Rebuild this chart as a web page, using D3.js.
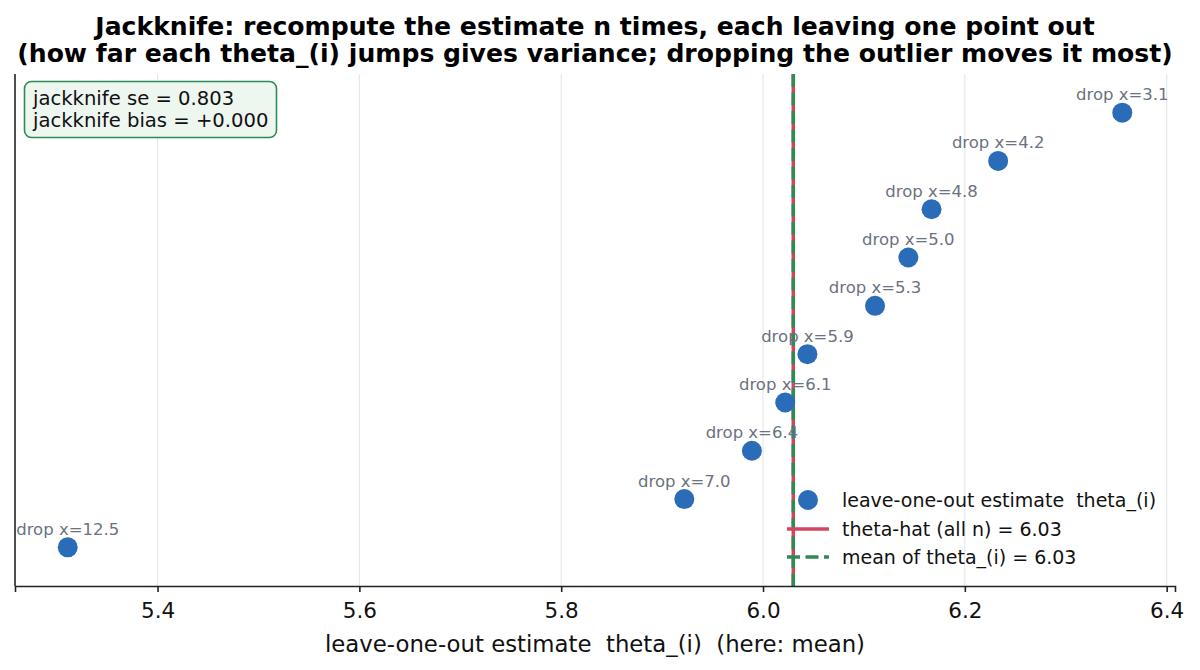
<!DOCTYPE html>
<html>
<head>
<meta charset="utf-8">
<script src="https://cdn.jsdelivr.net/npm/d3@7"></script>
<style>
  body { margin: 0; background: #fff; }
  svg text { font-family: "DejaVu Sans", sans-serif; white-space: pre; }
</style>
</head>
<body>
<svg id="chart" width="1200" height="670"></svg>
<script>
// Data
const droppedX = ["3.1", "4.2", "4.8", "5.0", "5.3", "5.9", "6.1", "6.4", "7.0", "12.5"];
const thetaI = [6.356, 6.233, 6.167, 6.144, 6.111, 6.044, 6.022, 5.989, 5.922, 5.311];
const thetaHat = 6.03;
const thetaMean = 6.03;
const xTicks = [5.4, 5.6, 5.8, 6.0, 6.2, 6.4];
const statLines = ["jackknife se = 0.803", "jackknife bias = +0.000"];
const legendLabels = ["leave-one-out estimate  theta_(i)", "theta-hat (all n) = 6.03", "mean of theta_(i) = 6.03"];

const blue = "#2b6cb8", red = "#d1455e", green = "#2e8b57";

let margin = {top: 74, right: 25, bottom: 84, left: 15},
    width = 1200 - margin.left - margin.right,
    height = 670 - margin.top - margin.bottom;

let svg = d3.select("#chart");

// Title
let cx = margin.left + width / 2;
svg.append("text").attr("x", cx).attr("y", 35).attr("text-anchor", "middle")
    .attr("font-size", 25.1).attr("font-weight", "bold")
    .text("Jackknife: recompute the estimate n times, each leaving one point out");
svg.append("text").attr("x", cx).attr("y", 62).attr("text-anchor", "middle")
    .attr("font-size", 25.1).attr("font-weight", "bold")
    .text("(how far each theta_(i) jumps gives variance; dropping the outlier moves it most)");

let g = svg.append("g").attr("transform", "translate(" + margin.left + "," + margin.top + ")");

// Scales: first point on top
let lo = d3.min(thetaI), hi = d3.max(thetaI), pad = (hi - lo) * 0.05;
let x = d3.scaleLinear().domain([lo - pad, hi + pad]).range([0, width]);
let y = d3.scaleLinear().domain([-0.8, thetaI.length - 1 + 0.8]).range([height, 0]);

// Grid
g.append("g").selectAll("line").data(xTicks).join("line")
    .attr("x1", d => x(d)).attr("x2", d => x(d))
    .attr("y1", 0).attr("y2", height)
    .attr("stroke", "#e8e8e8").attr("stroke-width", 1.2);

// Vertical reference lines
g.append("line").attr("x1", x(thetaHat)).attr("x2", x(thetaHat))
    .attr("y1", 0).attr("y2", height)
    .attr("stroke", red).attr("stroke-width", 3.5);
g.append("line").attr("x1", x(thetaMean)).attr("x2", x(thetaMean))
    .attr("y1", 0).attr("y2", height)
    .attr("stroke", green).attr("stroke-width", 3.5).attr("stroke-dasharray", "13,5.5");

// Points and labels
let n = thetaI.length;
g.append("g").selectAll("circle").data(thetaI).join("circle")
    .attr("cx", d => x(d)).attr("cy", (d, i) => y(n - 1 - i))
    .attr("r", 10).attr("fill", blue);

g.append("g").selectAll("text").data(thetaI).join("text")
    .attr("x", d => x(d)).attr("y", (d, i) => y(n - 1 - i) - 12.5)
    .attr("text-anchor", "middle").attr("font-size", 16.5).attr("fill", "#6b7280")
    .text((d, i) => "drop x=" + droppedX[i]);

// Axes
let xAxis = g.append("g").attr("transform", "translate(0," + height + ")")
    .call(d3.axisBottom(x).tickValues(xTicks).tickFormat(d3.format(".1f")).tickSize(6).tickPadding(11));
xAxis.select(".domain").attr("stroke", "#222").attr("stroke-width", 1.6);
xAxis.selectAll(".tick line").attr("stroke", "#222").attr("stroke-width", 1.6);
xAxis.selectAll(".tick text").attr("font-size", 21.5).attr("fill", "#111")
    .style("font-family", "'DejaVu Sans', sans-serif");

g.append("line").attr("x1", 0).attr("x2", 0).attr("y1", 0).attr("y2", height)
    .attr("stroke", "#222").attr("stroke-width", 1.6);

svg.append("text").attr("x", cx).attr("y", 651.5)
    .attr("text-anchor", "middle").attr("font-size", 22.8).attr("fill", "#111")
    .text("leave-one-out estimate  theta_(i)  (here: mean)");

// Stat box
let box = svg.append("g").attr("transform", "translate(24.5,81.5)");
box.append("rect").attr("width", 252).attr("height", 56).attr("rx", 7)
    .attr("fill", "#eef6f0").attr("stroke", green).attr("stroke-width", 1.6);
box.selectAll("text").data(statLines).join("text")
    .attr("x", 8.5).attr("y", (d, i) => 23 + i * 22.2)
    .attr("font-size", 19.6).attr("fill", "#111").text(d => d);

// Legend
let leg = svg.append("g").attr("transform", "translate(787,500)");
leg.append("circle").attr("cx", 21).attr("cy", 0).attr("r", 10).attr("fill", blue);
leg.append("line").attr("x1", 0).attr("x2", 42).attr("y1", 29).attr("y2", 29)
    .attr("stroke", red).attr("stroke-width", 3.5);
leg.append("line").attr("x1", 0).attr("x2", 42).attr("y1", 57).attr("y2", 57)
    .attr("stroke", green).attr("stroke-width", 3.5).attr("stroke-dasharray", "13,5.5");
leg.selectAll("text").data(legendLabels).join("text")
    .attr("x", 55).attr("y", (d, i) => i * 28.5 + 7)
    .attr("font-size", 19).attr("fill", "#111").text(d => d);
</script>
</body>
</html>
